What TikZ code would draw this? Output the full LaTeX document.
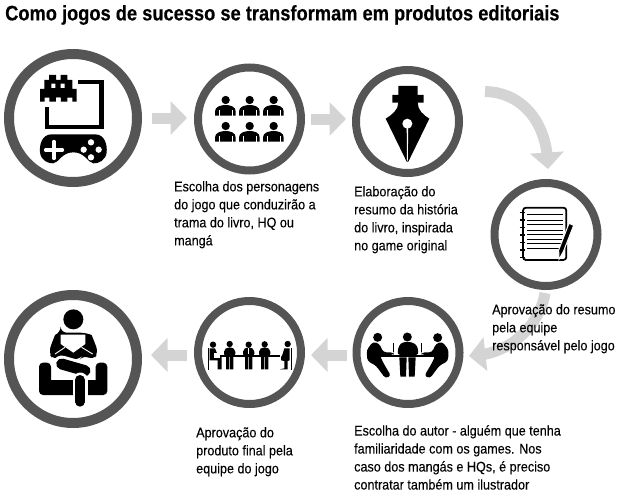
\documentclass[tikz,border=0pt]{standalone}
\usepackage{fontspec}
\setmainfont[FakeStretch=0.9,FakeBold=0.12]{Liberation Sans}
\newfontfamily\titlefont[FakeStretch=0.87,FakeBold=0.3]{Liberation Sans Bold}
\usetikzlibrary{arrows.meta,bending}
\definecolor{ringgray}{HTML}{555555}
\definecolor{flowgray}{HTML}{D4D4D4}
\tikzset{
  bigring/.style={circle,draw=ringgray,fill=white,line width=10pt,minimum size=128pt,inner sep=0pt},
  smallring/.style={circle,draw=ringgray,fill=white,line width=8pt,minimum size=103pt,inner sep=0pt},
  flow/.style={draw=flowgray,line width=11pt,-{Triangle[width=33pt,length=16.5pt,color=flowgray]}},
  captext/.style={anchor=north west,align=left,inner sep=0pt,font=\fontsize{14}{18}\selectfont},
  wl/.style={draw=white,line cap=round},
}
\begin{document}
\begin{tikzpicture}[x=1pt,y=-1pt]
\useasboundingbox (0,0) rectangle (620,500);
\node[anchor=west,inner sep=0pt,font=\titlefont\fontsize{21}{24}\selectfont] (title) at (5,15) {Como jogos de sucesso se transformam em produtos editoriais};
% rings
\node[bigring] (s1) at (73,118) {};
\node[smallring] (s2) at (249.5,119) {};
\node[smallring] (s3) at (407.5,121.5) {};
\node[smallring] (s4) at (546,234.5) {};
\node[smallring] (s5) at (408,352.5) {};
\node[smallring] (s6) at (249.5,352.5) {};
\node[bigring] (s7) at (73,359) {};
% connectors
\coordinate (k1) at (485,91.5);
\coordinate (k2) at (548,169);
\coordinate (k3) at (545,293);
\coordinate (k4) at (469,356);
\coordinate (a1) at ([xshift=10pt]s1.east);
\coordinate (a2) at ([xshift=-7pt]s2.west);
\coordinate (b1) at ([xshift=6pt]s2.east);
\coordinate (b2) at ([xshift=-6pt]s3.west);
\coordinate (c1) at ([xshift=-6pt,yshift=-2.5pt]s5.west);
\coordinate (c2) at ([xshift=6pt]s6.east);
\coordinate (d1) at ([xshift=-7pt,yshift=-2.5pt]s6.west);
\coordinate (d2) at ([xshift=9pt]s7.east);
\draw[flow] (a1) -- (a2 |- a1);
\draw[flow] (b1) -- (b2 |- b1);
\draw[flow] (k1) .. controls (520,92) and (548,120) .. (k2);
\draw[flow] (k3) .. controls (541,320) and (515,355) .. (k4);
\draw[flow] (c1) -- (c2 |- c1);
\draw[flow] (d1) -- (d2 |- d1);
% captions
\node[captext] (t2) at (174,181) {Escolha dos personagens\\do jogo que conduzirão a\\trama do livro, HQ ou\\mangá};
\node[captext] (t3) at (354,186) {Elaboração do\\resumo da história\\do livro, inspirada\\no game original};
\node[captext] (t4) at (492,304) {Aprovação do resumo\\pela equipe\\responsável pelo jogo};
\node[captext] (t5) at (354,425) {Escolha do autor - alguém que tenha\\familiaridade com os games. Nos\\caso dos mangás e HQs, é preciso\\contratar também um ilustrador};
\node[captext] (t6) at (196,427) {Aprovação do\\produto final pela\\equipe do jogo};
% icon 1
\begin{scope}[shift={(30,65)},scale=1/3]
 \fill (57,30) rectangle (78,45) (92,30) rectangle (112,45) (43,45) rectangle (127,72) (30,72) rectangle (140,98)
       (30,98) rectangle (44,110) (127,98) rectangle (140,110) (58,98) rectangle (78,110) (92,98) rectangle (112,110);
 \fill[white] (64,56) rectangle (76,69) (92,56) rectangle (104,69) (78,98) rectangle (92,110);
 \draw[line width=4.4pt] (145,51) -- (215,51) -- (215,186) -- (51,186) -- (51,125);
 \fill (65,208) -- (195,208) .. controls (225,208) and (232,240) .. (230,262) .. controls (228,285) and (205,297) .. (190,295) .. controls (172,292) and (165,262) .. (130,262) .. controls (95,262) and (88,292) .. (70,295) .. controls (55,297) and (32,285) .. (30,262) .. controls (28,240) and (35,208) .. (65,208) -- cycle;
 \draw[wl,line width=3.6pt] (47,255) -- (97,255) (72,230) -- (72,280);
 \fill[white] (183,232) circle (9.5) (183,277) circle (9.5) (161,254) circle (9.5) (206,254) circle (9.5);
\end{scope}
% icon 2
\begin{scope}[shift={(205,90)},scale=1/3]
 \foreach \dx in {0,72,144} \foreach \dy in {0,78} {
  \begin{scope}[shift={(\dx,\dy)}]
   \fill (62,30) circle (12.5);
   \fill (30,77) -- (30,64) .. controls (30,50) and (48,45) .. (62,45) .. controls (76,45) and (92,50) .. (92,64) -- (92,77) -- cycle;
   \draw[white,line width=.9pt] (42,60) -- (42,78) (81,60) -- (81,78);
  \end{scope}}
\end{scope}
% icon 3
\begin{scope}[shift={(375,80)},scale=1/3]
 \fill (70,18) -- (128,18) -- (128,45) -- (146,45) -- (146,68) -- (128,68) .. controls (128,90) and (145,105) .. (163,116) -- (100,245) -- (95,245) -- (32,116) .. controls (50,105) and (70,90) .. (70,68) -- (52,68) -- (52,45) -- (70,45) -- cycle;
 \fill[white] (97,131) circle (15);
 \fill[white] (95,135) -- (99.5,135) -- (98.5,242) -- (96,242) -- cycle;
\end{scope}
% icon 4
\begin{scope}[shift={(510,200)},scale=1/3]
 \draw[line width=1.8pt,fill=white,rounded corners=3pt] (39,23) rectangle (169,180);
 \foreach \yy in {37,60,83,105,128,150,172} \draw[line width=1.5pt] (29,\yy) -- (46,\yy);
 \foreach \yy in {44,60,74,90,104,118,131,146} \draw[line width=1pt] (52,\yy) -- (158,\yy);
 \fill[draw=white,line width=1pt] (177,70) -- (191,76) -- (160,155) -- (147,178) -- (146,150) -- cycle;
\end{scope}
% icon 5
\begin{scope}[shift={(30,300)},scale=1/3]
 \fill[rounded corners=4pt] (27,188) rectangle (63,285) (197,188) rectangle (232,285) (27,240) rectangle (232,285);
 \fill (130,58) circle (30);
 \fill[rounded corners=6pt] (92,98) -- (168,98) .. controls (185,105) and (195,130) .. (205,158) -- (190,180) -- (160,165) -- (150,178) -- (110,178) -- (100,165) -- (70,180) -- (56,158) .. controls (65,130) and (75,105) .. (92,98) -- cycle;
 \fill[white] (92,104) -- (166,104) -- (166,132) -- (130,158) -- (92,132) -- cycle;
 \draw[white,line width=.9pt] (75,162) -- (105,142) (188,162) -- (155,142);
 \draw[white,line width=17pt,line cap=round] (95,192) -- (165,212);
 \draw[line width=11pt,line cap=round] (95,192) -- (165,212);
 \draw[white,line width=15pt,line cap=round] (150,240) -- (150,305);
 \draw[line width=10pt,line cap=round] (150,240) -- (150,305);
\end{scope}
% icon 6
\begin{scope}[shift={(205,335)},scale=1/3]
 \draw[line width=1.5pt] (45,63) -- (225,63);
 \foreach \hx/\hy in {24/29,74/27,131/29,179/28,248/27} \fill (\hx,\hy) circle (9.5);
 \foreach \bx in {74,131,179} {
   \fill[rounded corners=2pt] (\bx-17,62) -- (\bx-17,44) -- (\bx-6,37) -- (\bx+6,37) -- (\bx+17,44) -- (\bx+17,62) -- cycle;
   \fill (\bx-11,66) rectangle (\bx-1,103) (\bx+1,66) rectangle (\bx+11,103);
 }
 \draw[white,line width=.7pt] (131,40) -- (131,58);
 \draw[line width=1pt] (10,38) -- (10,106);
 \fill (14,40) -- (30,40) -- (38,60) -- (50,62) -- (50,103) -- (38,103) -- (38,76) -- (14,76) -- cycle;
 \fill[white] (28,55) rectangle (44,68);
 \begin{scope}[shift={(268,0)},xscale=-1]
  \draw[line width=1pt] (10,38) -- (10,106);
  \fill (14,40) -- (30,40) -- (36,60) -- (40,66) -- (40,76) -- (30,78) -- (30,100) -- (44,103) -- (20,103) -- (20,78) -- (14,76) -- cycle;
 \end{scope}
\end{scope}
% icon 7
\begin{scope}[shift={(362,325)},scale=1/3]
 \draw[line width=1.5pt] (50,93) -- (225,93);
 \fill (47,37) circle (13.5) (136,36) circle (13.5) (227,38) circle (13.5);
 \foreach \mm in {0,1} {
  \begin{scope}[shift={(\mm*274,0)},xscale={1-2*\mm}]
   \fill[rounded corners=3pt] (33,50) -- (52,56) -- (64,82) -- (95,82) -- (95,90) -- (54,91) -- (62,110) -- (87,153) -- (70,160) -- (42,122) -- (16,108) -- (14,75) -- cycle;
   \draw[line width=.8pt] (95,55) -- (95,82);
  \end{scope}}
 \fill[rounded corners=3pt] (122,51) -- (150,51) -- (166,62) -- (170,90) -- (106,90) -- (110,62) -- cycle;
 \fill (112,97) -- (134,97) -- (132,155) -- (115,155) -- cycle;
 \fill (139,97) -- (161,97) -- (158,155) -- (141,155) -- cycle;
\end{scope}
\end{tikzpicture}
\end{document}
